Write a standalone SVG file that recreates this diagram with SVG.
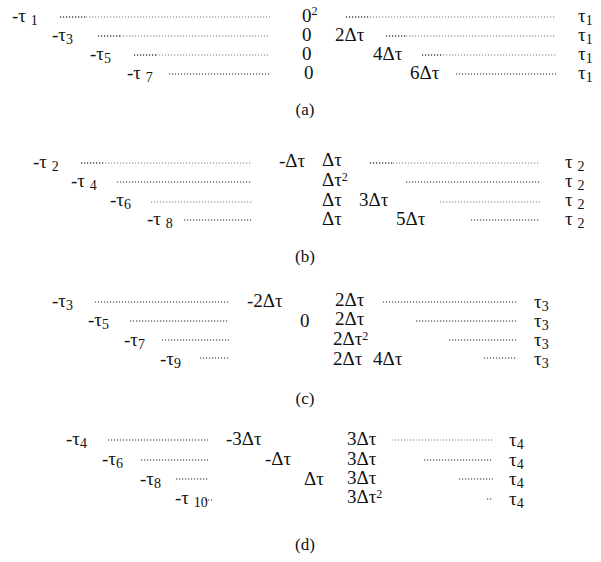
<svg xmlns="http://www.w3.org/2000/svg" width="601" height="562" viewBox="0 0 601 562">
<style>
text{font-family:"Liberation Serif","Times New Roman",serif;font-size:19px;fill:#111}
.cap{font-size:17px}
.sub{font-size:14px}
.sup{font-size:12px}
line{stroke-width:1.8;stroke-dasharray:1.2 1.8}
.d{stroke:#707070}
.m{stroke:#939393}
.l{stroke:#bdbdbd}
</style>
<rect width="601" height="562" fill="#fff"/>
<g id="connectors">
<line class="d" x1="60" y1="17" x2="86" y2="17"/><line class="l" x1="86" y1="17" x2="270" y2="17"/>
<line class="d" x1="98" y1="36" x2="120" y2="36"/><line class="l" x1="120" y1="36" x2="270" y2="36"/>
<line class="d" x1="134" y1="55" x2="156" y2="55"/><line class="l" x1="156" y1="55" x2="270" y2="55"/>
<line class="m" x1="169" y1="74" x2="270" y2="74"/>
<line class="d" x1="346" y1="17" x2="370" y2="17"/><line class="l" x1="370" y1="17" x2="556" y2="17"/>
<line class="d" x1="386" y1="36" x2="406" y2="36"/><line class="l" x1="406" y1="36" x2="556" y2="36"/>
<line class="d" x1="422" y1="55" x2="443" y2="55"/><line class="l" x1="443" y1="55" x2="556" y2="55"/>
<line class="m" x1="456" y1="74" x2="556" y2="74"/>
<line class="d" x1="81" y1="163" x2="105" y2="163"/><line class="l" x1="105" y1="163" x2="252" y2="163"/>
<line class="m" x1="117" y1="182" x2="252" y2="182"/>
<line class="l" x1="151" y1="202" x2="252" y2="202"/>
<line class="m" x1="184" y1="220" x2="252" y2="220"/>
<line class="d" x1="370" y1="163" x2="393" y2="163"/><line class="l" x1="393" y1="163" x2="540" y2="163"/>
<line class="m" x1="406" y1="182" x2="540" y2="182"/>
<line class="l" x1="440" y1="202" x2="540" y2="202"/>
<line class="m" x1="471" y1="220" x2="540" y2="220"/>
<line class="m" x1="95" y1="302" x2="229" y2="302"/>
<line class="m" x1="130" y1="321" x2="229" y2="321"/>
<line class="m" x1="162" y1="340" x2="229" y2="340"/>
<line class="m" x1="200" y1="358" x2="229" y2="358"/>
<line class="m" x1="383" y1="302" x2="517" y2="302"/>
<line class="m" x1="416" y1="321" x2="517" y2="321"/>
<line class="m" x1="449" y1="340" x2="517" y2="340"/>
<line class="m" x1="484" y1="358" x2="517" y2="358"/>
<line class="m" x1="108" y1="440" x2="208" y2="440"/>
<line class="m" x1="141" y1="460" x2="208" y2="460"/>
<line class="m" x1="176" y1="479" x2="209" y2="479"/>
<line class="m" x1="205" y1="500" x2="212" y2="500"/>
<line class="l" x1="392" y1="440" x2="493" y2="440"/>
<line class="m" x1="424" y1="460" x2="493" y2="460"/>
<line class="m" x1="459" y1="479" x2="493" y2="479"/>
<line class="m" x1="487" y1="499" x2="493" y2="499"/>
</g>
<g id="panel-a">
<text x="12" y="22">-τ <tspan class="sub" dy="3">1</tspan></text>
<text x="52" y="41">-τ<tspan class="sub" dy="3">3</tspan></text>
<text x="90" y="60">-τ<tspan class="sub" dy="3">5</tspan></text>
<text x="127" y="79">-τ <tspan class="sub" dy="3">7</tspan></text>
<text x="302" y="22">0<tspan class="sup" dy="-7">2</tspan></text>
<text x="302" y="41">0</text>
<text x="302" y="60">0</text>
<text x="304" y="79">0</text>
<text x="335" y="41">2Δτ</text>
<text x="373" y="60">4Δτ</text>
<text x="410" y="79">6Δτ</text>
<text x="578" y="22">τ<tspan class="sub" dy="3">1</tspan></text>
<text x="578" y="41">τ<tspan class="sub" dy="3">1</tspan></text>
<text x="578" y="60">τ<tspan class="sub" dy="3">1</tspan></text>
<text x="578" y="79">τ<tspan class="sub" dy="3">1</tspan></text>
<text class="cap" x="305" y="115" text-anchor="middle">(a)</text>
</g>
<g id="panel-b">
<text x="33" y="168">-τ <tspan class="sub" dy="3">2</tspan></text>
<text x="71" y="187">-τ <tspan class="sub" dy="3">4</tspan></text>
<text x="110" y="206">-τ<tspan class="sub" dy="3">6</tspan></text>
<text x="147" y="225">-τ <tspan class="sub" dy="3">8</tspan></text>
<text x="279" y="167">-Δτ</text>
<text x="322" y="166">Δτ</text>
<text x="322" y="186">Δτ<tspan class="sup" dy="-5">2</tspan></text>
<text x="322" y="206">Δτ</text>
<text x="322" y="225">Δτ</text>
<text x="359" y="206">3Δτ</text>
<text x="396" y="225">5Δτ</text>
<text x="565" y="168">τ <tspan class="sub" dy="3">2</tspan></text>
<text x="565" y="187">τ <tspan class="sub" dy="3">2</tspan></text>
<text x="565" y="206">τ <tspan class="sub" dy="3">2</tspan></text>
<text x="565" y="225">τ <tspan class="sub" dy="3">2</tspan></text>
<text class="cap" x="305" y="262" text-anchor="middle">(b)</text>
</g>
<g id="panel-c">
<text x="52" y="307">-τ<tspan class="sub" dy="3">3</tspan></text>
<text x="88" y="326">-τ<tspan class="sub" dy="3">5</tspan></text>
<text x="124" y="346">-τ<tspan class="sub" dy="3">7</tspan></text>
<text x="160" y="365">-τ<tspan class="sub" dy="3">9</tspan></text>
<text x="247" y="307">-2Δτ</text>
<text x="300" y="327">0</text>
<text x="335" y="306">2Δτ</text>
<text x="335" y="325">2Δτ</text>
<text x="333" y="345">2Δτ<tspan class="sup" dy="-5">2</tspan></text>
<text x="333" y="365">2Δτ</text>
<text x="373" y="365">4Δτ</text>
<text x="534" y="308">τ<tspan class="sub" dy="3">3</tspan></text>
<text x="534" y="327">τ<tspan class="sub" dy="3">3</tspan></text>
<text x="534" y="346">τ<tspan class="sub" dy="3">3</tspan></text>
<text x="534" y="365">τ<tspan class="sub" dy="3">3</tspan></text>
<text class="cap" x="305" y="404" text-anchor="middle">(c)</text>
</g>
<g id="panel-d">
<text x="66" y="445">-τ<tspan class="sub" dy="3">4</tspan></text>
<text x="102" y="465">-τ<tspan class="sub" dy="3">6</tspan></text>
<text x="140" y="485">-τ<tspan class="sub" dy="3">8</tspan></text>
<text x="175" y="504">-τ <tspan class="sub" dy="3">10</tspan></text>
<text x="226" y="445">-3Δτ</text>
<text x="265" y="465">-Δτ</text>
<text x="304" y="485">Δτ</text>
<text x="347" y="445">3Δτ</text>
<text x="347" y="465">3Δτ</text>
<text x="347" y="484">3Δτ</text>
<text x="347" y="503">3Δτ<tspan class="sup" dy="-5">2</tspan></text>
<text x="509" y="446">τ<tspan class="sub" dy="3">4</tspan></text>
<text x="509" y="466">τ<tspan class="sub" dy="3">4</tspan></text>
<text x="509" y="485">τ<tspan class="sub" dy="3">4</tspan></text>
<text x="509" y="505">τ<tspan class="sub" dy="3">4</tspan></text>
<text class="cap" x="305" y="550" text-anchor="middle">(d)</text>
</g>
</svg>
